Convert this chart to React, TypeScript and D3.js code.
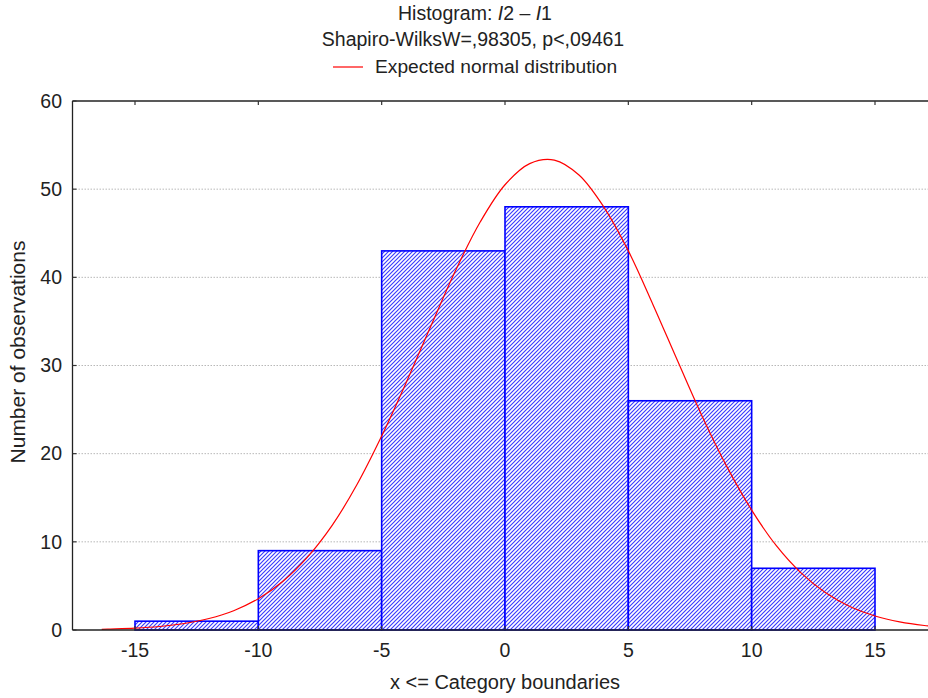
import * as d3 from 'd3';

const binEdges = [-15, -10, -5, 0, 5, 10, 15];
const counts = [1, 9, 43, 48, 26, 7];
const xTicks = [-15, -10, -5, 0, 5, 10, 15];
const yTicks = [0, 10, 20, 30, 40, 50, 60];
// expected normal curve
const curveX = [-16.35, -16, -15, -14, -13, -12, -11, -10, -9, -8, -7, -6, -5, -4, -3, -2, -1, 0, 1, 2, 3, 4, 5, 6, 7, 8, 9, 10, 11, 12, 13, 14, 15, 16, 17, 18];
const curveY = [0.08, 0.11, 0.21, 0.4, 0.74, 1.3, 2.19, 3.55, 5.53, 8.29, 11.9, 16.5, 22.0, 28.1, 34.5, 40.8, 46.3, 50.5, 52.9, 53.3, 51.6, 48.0, 43.0, 36.9, 30.5, 24.2, 18.5, 13.6, 9.56, 6.48, 4.22, 2.64, 1.59, 0.92, 0.51, 0.27];

const FONT = '"Liberation Sans", Arial, sans-serif';

export default function App() {
  const width = 928;
  const height = 698;
  const left = 72.5;
  const top = 101;
  const bottom = 630;
  const right = 940;

  const x = d3.scaleLinear().domain([-15, 15]).range([135, 875]);
  const y = d3.scaleLinear().domain([0, 60]).range([bottom, top]);

  const bins = counts.map((c, i) => ({ x0: binEdges[i], x1: binEdges[i + 1], c }));
  const pts = curveX.map((v, i) => [v, curveY[i]] as [number, number]);
  const line = d3
    .line<[number, number]>()
    .x((d) => x(d[0]))
    .y((d) => y(d[1]))
    .curve(d3.curveCatmullRom);

  return (
    <svg
      width={width}
      height={height}
      style={{ position: 'absolute', left: 0, top: 0, background: '#fff' }}
      fontFamily={FONT}
    >
      <defs>
        <pattern id="hatch" patternUnits="userSpaceOnUse" width={4} height={4}>
          <rect width={4} height={4} fill="#fff" />
          <path d="M-1,1 l2,-2 M0,4 l4,-4 M3,5 l2,-2" stroke="#3a3aff" strokeWidth={1.15} />
        </pattern>
        <clipPath id="plot">
          <rect x={left} y={top} width={right - left} height={bottom - top} />
        </clipPath>
      </defs>

      {/* titles */}
      <text x={475} y={20} textAnchor="middle" fontSize={19.5} fill="#222">
        Histogram: <tspan fontStyle="italic">I</tspan>2 – <tspan fontStyle="italic">I</tspan>1
      </text>
      <text x={473} y={46} textAnchor="middle" fontSize={19.5} fill="#222">
        Shapiro-WilksW=,98305, p&lt;,09461
      </text>
      <line x1={333} x2={363} y1={67} y2={67} stroke="#ff0000" strokeWidth={1.2} />
      <text x={375} y={73} fontSize={19.2} fill="#222">
        Expected normal distribution
      </text>

      {/* gridlines */}
      {yTicks
        .filter((t) => t > 0 && t < 60)
        .map((t) => (
          <line
            key={'g' + t}
            x1={left}
            x2={right}
            y1={y(t)}
            y2={y(t)}
            stroke="#b8b8b8"
            strokeWidth={1}
            strokeDasharray="1.5,1.5"
          />
        ))}

      {/* bars */}
      {bins.map((b) => (
        <rect
          key={b.x0}
          x={x(b.x0)}
          y={y(b.c)}
          width={x(b.x1) - x(b.x0)}
          height={y(0) - y(b.c)}
          fill="url(#hatch)"
          stroke="#0000ff"
          strokeWidth={1.6}
        />
      ))}

      {/* normal curve */}
      <path d={line(pts) || ''} fill="none" stroke="#ff0000" strokeWidth={1.2} clipPath="url(#plot)" />

      {/* frame */}
      <line x1={left} x2={right} y1={top} y2={top} stroke="#222" strokeWidth={1.3} />
      <line x1={left} x2={right} y1={bottom} y2={bottom} stroke="#222" strokeWidth={1.3} />
      <line x1={left} x2={left} y1={top} y2={bottom} stroke="#222" strokeWidth={1.3} />

      {/* x ticks */}
      {xTicks.map((t) => (
        <g key={'x' + t}>
          <line x1={x(t)} x2={x(t)} y1={top} y2={top + 4} stroke="#333" strokeWidth={1.2} />
          <line x1={x(t)} x2={x(t)} y1={bottom} y2={bottom - 4} stroke="#333" strokeWidth={1.2} />
          <text x={x(t)} y={657} textAnchor="middle" fontSize={19.5} fill="#222">
            {t}
          </text>
        </g>
      ))}

      {/* y ticks */}
      {yTicks.map((t) => (
        <g key={'y' + t}>
          <line x1={left} x2={left + 4} y1={y(t)} y2={y(t)} stroke="#333" strokeWidth={1.2} />
          <text x={62} y={y(t)} dy="0.35em" textAnchor="end" fontSize={19.5} fill="#222">
            {t}
          </text>
        </g>
      ))}

      {/* axis titles */}
      <text x={505} y={689} textAnchor="middle" fontSize={20} fill="#222">
        x &lt;= Category boundaries
      </text>
      <text
        transform="translate(25,352) rotate(-90)"
        textAnchor="middle"
        fontSize={21}
        fill="#222"
      >
        Number of observations
      </text>
    </svg>
  );
}
